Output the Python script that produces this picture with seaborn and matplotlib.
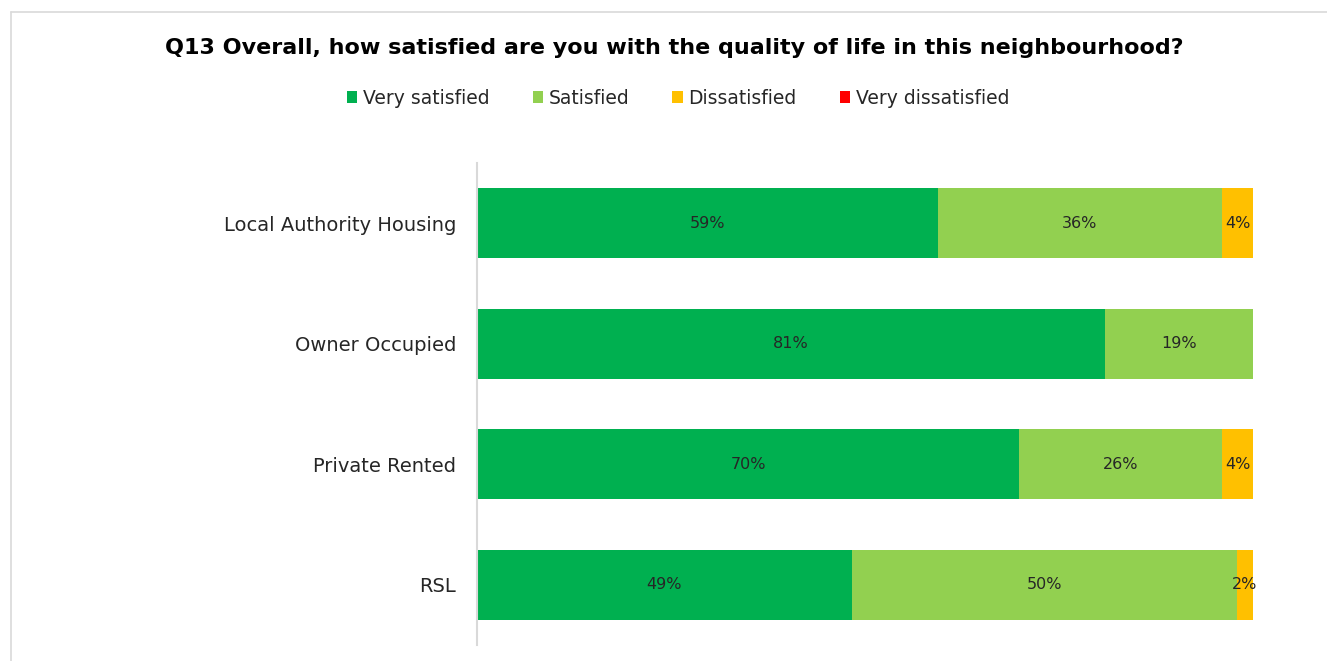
import matplotlib
matplotlib.use("Agg")
import matplotlib.pyplot as plt
import seaborn as sns
import pandas as pd
import numpy as np
from matplotlib.patches import Patch
from matplotlib.lines import Line2D

categories = ["Local Authority Housing", "Owner Occupied", "Private Rented", "RSL"]
series = ["Very satisfied", "Satisfied", "Dissatisfied", "Very dissatisfied"]
very_satisfied = [59.4, 80.9, 69.9, 48.3]
satisfied = [36.6, 19.1, 26.1, 49.6]
dissatisfied = [4.0, 0.0, 4.0, 2.1]
very_dissatisfied = [0.0, 0.0, 0.0, 0.0]
very_satisfied_labels = ["59%", "81%", "70%", "49%"]
satisfied_labels = ["36%", "19%", "26%", "50%"]
dissatisfied_labels = ["4%", "", "4%", "2%"]
very_dissatisfied_labels = ["", "", "", ""]
colors = ["#00B050", "#92D050", "#FFC000", "#FF0000"]
title = "Q13 Overall, how satisfied are you with the quality of life in this neighbourhood?"

sns.set_theme(style="white")
plt.rcParams['font.family'] = ['DejaVu Sans']

values = [very_satisfied, satisfied, dissatisfied, very_dissatisfied]
labels = [very_satisfied_labels, satisfied_labels, dissatisfied_labels, very_dissatisfied_labels]
cum = np.cumsum(np.array(values), axis=0)

fig = plt.figure(figsize=(13.27, 6.61), dpi=100)
ax = fig.add_axes([477/1327, 16/661, 776/1327, 482/661])

for i in range(len(series) - 1, -1, -1):
    df = pd.DataFrame({"category": categories, "value": cum[i]})
    sns.barplot(data=df, y="category", x="value", orient="h", color=colors[i],
                saturation=1, width=0.58, ax=ax, order=categories, linewidth=0)

for i in range(len(series)):
    for j in range(len(categories)):
        v = values[i][j]
        if v > 0 and labels[i][j]:
            ax.text(cum[i][j] - v / 2, j, labels[i][j], ha="center", va="center",
                    fontsize=11.5, color="#262626")

ax.set_xlim(0, 100)
ax.set_ylim(3.5, -0.5)
ax.set_xlabel("")
ax.set_ylabel("")
ax.set_xticks([])
ax.tick_params(axis="y", length=0, pad=15, labelsize=14, labelcolor="#262626")
for s in ["top", "right", "bottom"]:
    ax.spines[s].set_visible(False)
ax.spines["left"].set_color("#D9D9D9")
ax.spines["left"].set_linewidth(1.5)

fig.text(674/1327, 1 - 48/661, title, ha="center", va="center",
         fontsize=16, fontweight="bold", color="black")

handles = [Patch(facecolor=c, edgecolor="none") for c in colors]
fig.legend(handles, series, loc="center", bbox_to_anchor=(678/1327, 1 - 98/661),
           ncol=4, frameon=False, fontsize=13.5, handlelength=0.55, handleheight=0.55,
           handletextpad=0.3, columnspacing=2.3, labelcolor="#262626")

fig.add_artist(Line2D([11/1327, 1], [1 - 12/661, 1 - 12/661], color="#D9D9D9", lw=1.2))
fig.add_artist(Line2D([11/1327, 11/1327], [0, 1 - 12/661], color="#D9D9D9", lw=1.2))

fig.savefig("out.png", dpi=100, facecolor="white")
